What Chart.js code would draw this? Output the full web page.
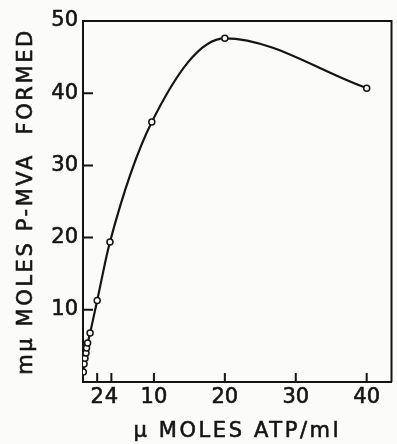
<!DOCTYPE html>
<html>
<head>
<meta charset="utf-8">
<script src="https://cdn.jsdelivr.net/npm/chart.js@4.4.0/dist/chart.umd.min.js"></script>
<style>
  html, body { margin: 0; padding: 0; background: #fbfbfa; }
  #wrap { width: 397px; height: 444px; }
</style>
</head>
<body>
<div id="wrap"><canvas id="chart_mvaVsAtp"></canvas></div>
<script>
// ATP concentration (umoles/ml) vs. P-MVA formed (mumoles)
var atpConc = [0.05, 0.15, 0.28, 0.42, 0.5, 0.65, 1.0, 2.0, 3.8, 9.7, 20, 40];
var pmvaFormed = [1.4, 2.5, 3.3, 4.0, 4.7, 5.4, 6.8, 11.3, 19.4, 36.0, 47.6, 40.7];
var xTickValues = [2, 4, 10, 20, 30, 40];
var yTickValues = [10, 20, 30, 40, 50];
var xTitle = 'μ MOLES ATP/ml';
var yTitle = 'mμ MOLES P-MVA  FORMED';

var ink = '#141414';
var paper = '#fbfbfa';
Chart.defaults.font.family = '"DejaVu Sans", sans-serif';
Chart.defaults.color = ink;

var chart_mvaVsAtp = new Chart(document.getElementById('chart_mvaVsAtp'), {
    type: 'line',
    data: {
        datasets: [{
            data: atpConc.map(function (x, i) { return { x: x, y: pmvaFormed[i] }; }),
            borderColor: ink,
            borderWidth: 2.2,
            cubicInterpolationMode: 'monotone',
            pointRadius: 3,
            pointBorderWidth: 1.5,
            pointBorderColor: ink,
            pointBackgroundColor: paper,
            fill: false
        }]
    },
    options: {
        animation: false,
        responsive: true,
        maintainAspectRatio: false,
        layout: { padding: { left: 0, right: 1, top: 21, bottom: 0 } },
        plugins: {
            legend: { display: false },
            tooltip: { enabled: false }
        },
        scales: {
            x: {
                type: 'linear',
                min: 0,
                max: 43.5,
                afterBuildTicks: function (scale) {
                    scale.ticks = xTickValues.map(function (v) { return { value: v }; });
                },
                afterFit: function (scale) {
                    scale.height = 62;
                    scale.paddingLeft = 0;
                    scale.paddingRight = 0;
                },
                grid: { display: false, drawTicks: false },
                border: { display: true, color: ink, width: 2 },
                ticks: {
                    padding: 3, maxRotation: 0, autoSkip: false, font: { size: 21 },
                    textStrokeColor: ink, textStrokeWidth: 0.6
                }
            },
            y: {
                type: 'linear',
                min: 0,
                max: 50,
                afterBuildTicks: function (scale) {
                    scale.ticks = yTickValues.map(function (v) { return { value: v }; });
                },
                afterFit: function (scale) { scale.width = 83; },
                grid: { display: false, drawTicks: false },
                border: { display: true, color: ink, width: 2 },
                ticks: {
                    padding: 5, font: { size: 21 },
                    textStrokeColor: ink, textStrokeWidth: 0.6
                }
            }
        }
    },
    plugins: [{
        id: 'frameTicksTitles',
        afterDraw: function (chart) {
            var ctx = chart.ctx;
            var area = chart.chartArea;
            var xs = chart.scales.x, ys = chart.scales.y;
            ctx.save();
            ctx.strokeStyle = ink;
            ctx.lineWidth = 2;
            ctx.beginPath();
            // top and right edges of the frame
            ctx.moveTo(area.left, area.top);
            ctx.lineTo(area.right, area.top);
            ctx.lineTo(area.right, area.bottom);
            // tick marks pointing into the plot
            xTickValues.forEach(function (v) {
                var px = xs.getPixelForValue(v);
                ctx.moveTo(px, area.bottom);
                ctx.lineTo(px, area.bottom - 9);
            });
            yTickValues.slice(0, -1).forEach(function (v) {
                var py = ys.getPixelForValue(v);
                ctx.moveTo(area.left, py);
                ctx.lineTo(area.left + 10, py);
            });
            ctx.stroke();

            // axis titles, lettered wide
            ctx.fillStyle = ink;
            ctx.lineWidth = 0.6;
            ctx.font = '21px "DejaVu Sans", sans-serif';
            ctx.letterSpacing = '2.6px';
            ctx.textAlign = 'center';
            ctx.textBaseline = 'middle';
            var cx = (area.left + area.right) / 2;
            ctx.fillText(xTitle, cx, 432);
            ctx.strokeText(xTitle, cx, 432);
            ctx.translate(27, (area.top + area.bottom) / 2);
            ctx.rotate(-Math.PI / 2);
            ctx.fillText(yTitle, 0, 0);
            ctx.strokeText(yTitle, 0, 0);
            ctx.restore();
        }
    }]
});
</script>
</body>
</html>
